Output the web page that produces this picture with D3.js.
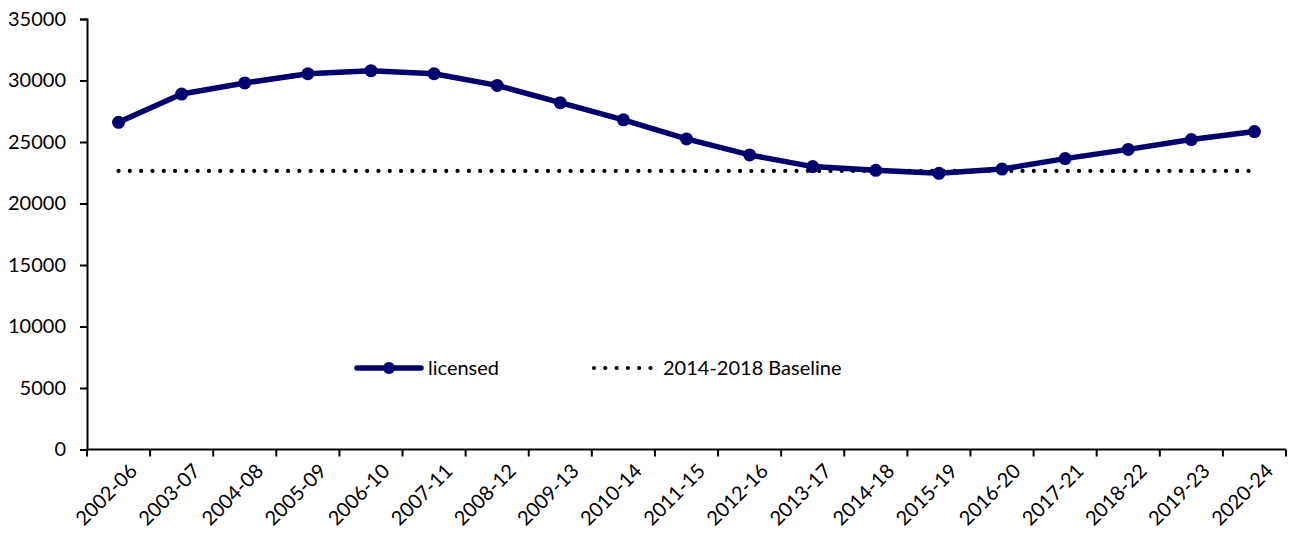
<!DOCTYPE html>
<html>
<head>
<meta charset="utf-8">
<script src="https://cdn.jsdelivr.net/npm/d3@7"></script>
<style>
  html, body { margin: 0; padding: 0; background: #fff; }
  svg text { font-family: Lato, "Liberation Sans", sans-serif; font-size: 20px; fill: #000; }
</style>
</head>
<body>
<svg id="chart" width="1289" height="533"></svg>
<script>
// Five-year rolling periods
const periods = ["2002-06","2003-07","2004-08","2005-09","2006-10","2007-11","2008-12","2009-13",
  "2010-14","2011-15","2012-16","2013-17","2014-18","2015-19","2016-20","2017-21","2018-22","2019-23","2020-24"];
// Licensed count per period
const licensed = [26600, 28900, 29800, 30550, 30800, 30550, 29600, 28200, 26800, 25250,
  23950, 23000, 22700, 22450, 22800, 23650, 24400, 25200, 25850];
// 2014-2018 baseline level
const baseline = 22650;
const yTicks = [0, 5000, 10000, 15000, 20000, 25000, 30000, 35000];

const FONT = "Lato, 'Liberation Sans', sans-serif";
const svg = d3.select("#chart");
const margin = { left: 87, right: 3, top: 19, bottom: 83.5 };
const W = 1289, H = 533;

const x = d3.scaleBand().domain(periods).range([margin.left, W - margin.right]);
const y = d3.scaleLinear().domain([0, 35000]).range([H - margin.bottom, margin.top]);
const cx = d => x(d) + x.bandwidth() / 2;

// Y axis
const yAxis = svg.append("g")
  .attr("transform", `translate(${margin.left},0)`)
  .call(d3.axisLeft(y).tickValues(yTicks).tickFormat(d3.format("d")).tickSize(7).tickPadding(14));
yAxis.select(".domain").attr("stroke", "#000").attr("stroke-width", 2);
yAxis.selectAll(".tick line").attr("stroke", "#000").attr("stroke-width", 2);
yAxis.selectAll("text").style("font-family", FONT).style("font-size", "20px").attr("fill", "#000");

// X axis with ticks at category boundaries
const xAxisG = svg.append("g").attr("transform", `translate(0,${y(0)})`);
xAxisG.append("line")
  .attr("x1", margin.left).attr("x2", W - margin.right)
  .attr("stroke", "#000").attr("stroke-width", 2);
const bounds = periods.map(p => x(p)).concat([x(periods[periods.length - 1]) + x.bandwidth()]);
xAxisG.selectAll("line.tk").data(bounds).enter().append("line")
  .attr("class", "tk")
  .attr("x1", d => d).attr("x2", d => d)
  .attr("y1", 0).attr("y2", 7)
  .attr("stroke", "#000").attr("stroke-width", 2);
xAxisG.selectAll("text").data(periods).enter().append("text")
  .attr("text-anchor", "end")
  .attr("transform", d => `translate(${cx(d) + 10},${13}) rotate(-45)`)
  .attr("dy", "0.7em")
  .text(d => d);

// Baseline dotted line
svg.append("line")
  .attr("x1", cx(periods[0])).attr("x2", cx(periods[periods.length - 1]))
  .attr("y1", y(baseline)).attr("y2", y(baseline))
  .attr("stroke", "#000").attr("stroke-width", 4.2)
  .attr("stroke-linecap", "round")
  .attr("stroke-dasharray", "0 11.3");

// Licensed series
const navy = "#000070";
const line = d3.line().x((d, i) => cx(periods[i])).y(d => y(d));
svg.append("path")
  .datum(licensed)
  .attr("d", line)
  .attr("fill", "none")
  .attr("stroke", navy)
  .attr("stroke-width", 5.5)
  .attr("stroke-linejoin", "round");
svg.selectAll("circle.pt").data(licensed).enter().append("circle")
  .attr("class", "pt")
  .attr("cx", (d, i) => cx(periods[i]))
  .attr("cy", d => y(d))
  .attr("r", 6.5)
  .attr("fill", navy);

// Legend
const ly = 368;
const lg = svg.append("g");
lg.append("line").attr("x1", 357).attr("x2", 421).attr("y1", ly).attr("y2", ly)
  .attr("stroke", navy).attr("stroke-width", 5.5).attr("stroke-linecap", "round");
lg.append("circle").attr("cx", 389).attr("cy", ly).attr("r", 6).attr("fill", navy);
lg.append("text").attr("x", 428).attr("y", ly).attr("dy", "0.35em").text("licensed");
lg.append("line").attr("x1", 594).attr("x2", 651).attr("y1", ly).attr("y2", ly)
  .attr("stroke", "#000").attr("stroke-width", 4.2).attr("stroke-linecap", "round")
  .attr("stroke-dasharray", "0 11.3");
lg.append("text").attr("x", 663).attr("y", ly).attr("dy", "0.35em").text("2014-2018 Baseline");
</script>
</body>
</html>
